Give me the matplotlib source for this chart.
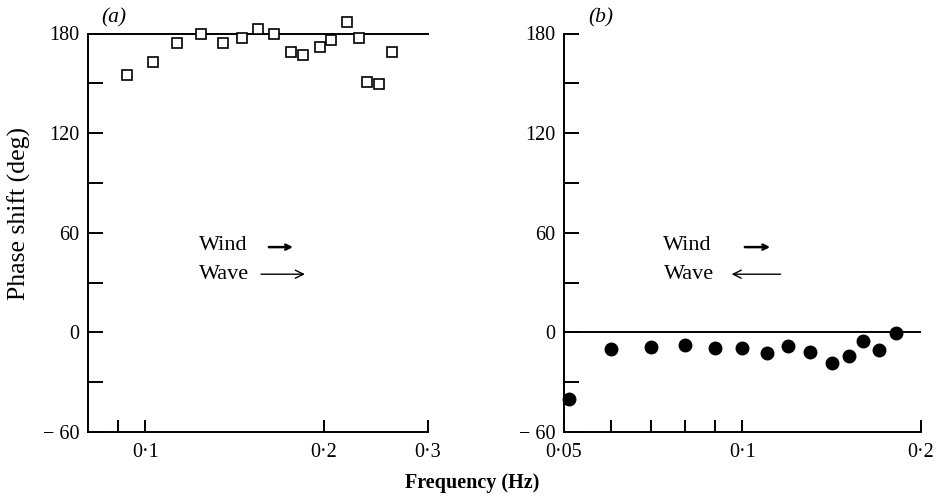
import matplotlib
matplotlib.use("Agg")
import matplotlib.pyplot as plt
from matplotlib.ticker import FixedLocator, NullFormatter

plt.rcParams["font.family"] = ["Liberation Serif", "DejaVu Serif"]
plt.rcParams["font.size"] = 14.5

# panel (a): wind and waves in the same direction
freq_a = [0.093, 0.103, 0.113, 0.124, 0.135, 0.1455, 0.155, 0.165, 0.176,
          0.1845, 0.197, 0.206, 0.219, 0.229, 0.237, 0.248, 0.261]
phase_a = [155, 163, 174, 180, 174, 177, 183, 180, 169, 167, 172, 176, 187,
           177, 151, 149.5, 169]

# panel (b): waves against the wind
freq_b = [0.051, 0.06, 0.07, 0.08, 0.09, 0.0998, 0.11, 0.1196, 0.130, 0.1415,
          0.1514, 0.1597, 0.1703, 0.1817]
phase_b = [-40, -10.3, -8.7, -7.7, -9.5, -9.3, -12.7, -8.5, -11.7, -18.7,
           -14.5, -5.1, -10.7, -0.6]

yticks = [-60, 0, 60, 120, 180]
ytick_labels = ["\u2212 60", "0", "60", "120", "180"]
yminor = [-30, 30, 90, 150]

fig = plt.figure(figsize=(9.41, 5.0), dpi=100)
ax_a = fig.add_axes([0.0935, 0.136, 0.3613, 0.797])
ax_b = fig.add_axes([0.5994, 0.136, 0.379, 0.797])


def style(ax, xlim, xmajor, xlabels, xminor):
    ax.set_xscale("log")
    ax.set_xlim(*xlim)
    ax.set_ylim(-60, 180)
    for s in ["top", "right"]:
        ax.spines[s].set_visible(False)
    for s in ["left", "bottom"]:
        ax.spines[s].set_linewidth(1.4)
    ax.xaxis.set_major_locator(FixedLocator(xmajor))
    ax.set_xticklabels(xlabels)
    ax.xaxis.set_minor_locator(FixedLocator(xminor))
    ax.xaxis.set_minor_formatter(NullFormatter())
    ax.set_yticks(yticks)
    ax.set_yticklabels(ytick_labels)
    ax.yaxis.set_minor_locator(FixedLocator(yminor))
    ax.tick_params(which="both", direction="in", length=11, width=1.4,
                   labelsize=14.5)
    ax.tick_params(axis="x", which="both", length=9, pad=8)
    ax.tick_params(axis="y", which="both", pad=6)


style(ax_a, (0.08, 0.3), [0.1, 0.2, 0.3], ["0\u00b71", "0\u00b72", "0\u00b73"],
      [0.09])
style(ax_b, (0.05, 0.2), [0.05, 0.1, 0.2],
      ["0\u00b705", "0\u00b71", "0\u00b72"], [0.06, 0.07, 0.08, 0.09])

ax_a.axhline(180, color="black", lw=1.4, clip_on=False)
ax_a.plot(freq_a, phase_a, "s", ms=7.5, mfc="white", mec="black", mew=1.2,
          clip_on=False, zorder=3)

ax_b.axhline(0, color="black", lw=1.4)
ax_b.plot(freq_b, phase_b, "o", ms=9, color="black", clip_on=False, zorder=3)

ax_a.text(0.076, 1.04, "(a)", transform=ax_a.transAxes, ha="center",
          va="center", style="italic", fontsize=15.5)
ax_b.text(0.104, 1.04, "(b)", transform=ax_b.transAxes, ha="center",
          va="center", style="italic", fontsize=15.5)

arrow = dict(arrowstyle="->", lw=1.0, color="black", shrinkA=0, shrinkB=0)
short_arrow = dict(arrowstyle="->", lw=1.8, color="black", shrinkA=0,
                   shrinkB=0, mutation_scale=9)

ax_a.text(0.326, 0.469, "Wind", transform=ax_a.transAxes, va="center",
          fontsize=16)
ax_a.annotate("", xy=(0.603, 0.464), xytext=(0.532, 0.464),
              xycoords="axes fraction", arrowprops=short_arrow)
ax_a.text(0.326, 0.396, "Wave", transform=ax_a.transAxes, va="center",
          fontsize=16)
ax_a.annotate("", xy=(0.638, 0.396), xytext=(0.509, 0.396),
              xycoords="axes fraction", arrowprops=arrow)

ax_b.text(0.278, 0.469, "Wind", transform=ax_b.transAxes, va="center",
          fontsize=16)
ax_b.annotate("", xy=(0.578, 0.464), xytext=(0.507, 0.464),
              xycoords="axes fraction", arrowprops=short_arrow)
ax_b.text(0.280, 0.396, "Wave", transform=ax_b.transAxes, va="center",
          fontsize=16)
ax_b.annotate("", xy=(0.470, 0.396), xytext=(0.607, 0.396),
              xycoords="axes fraction", arrowprops=arrow)

fig.text(0.021, 0.574, "Phase shift (deg)", rotation=90, ha="center",
         va="center", fontsize=18.5)
fig.text(0.502, 0.034, "Frequency (Hz)", ha="center", va="center",
         fontsize=14.5, fontweight="bold")

fig.savefig("out.png", dpi=100)
